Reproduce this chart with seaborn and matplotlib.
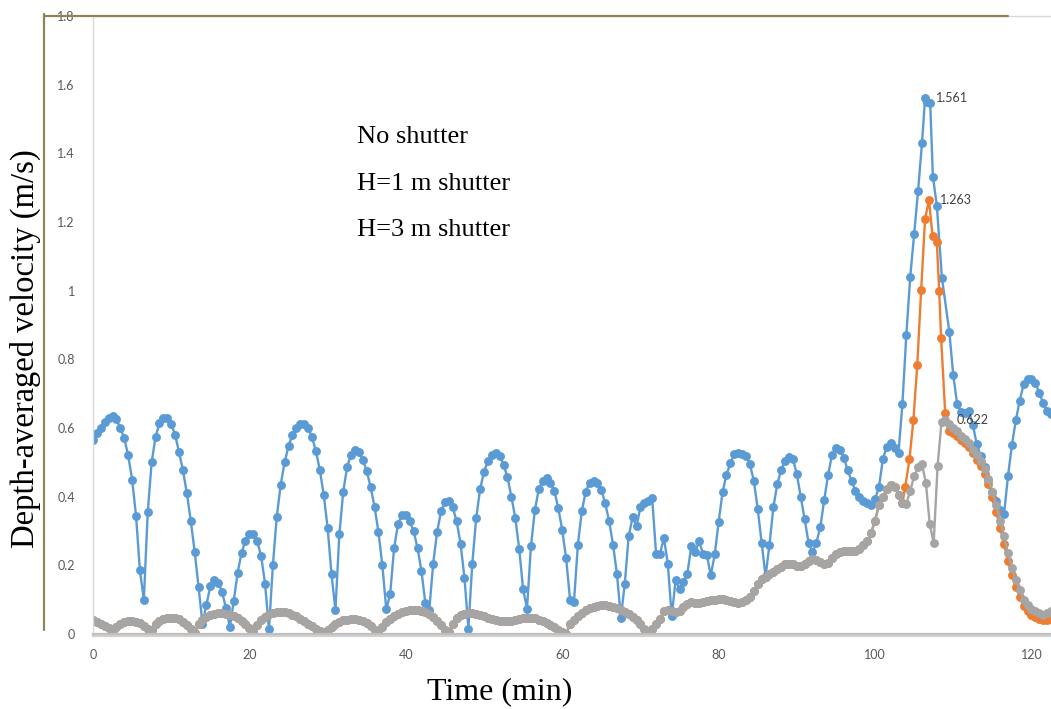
import numpy as np
import pandas as pd
import matplotlib
matplotlib.use("Agg")
import matplotlib.pyplot as plt
import matplotlib.patheffects as pe
from matplotlib.lines import Line2D
from matplotlib.ticker import FuncFormatter
import seaborn as sns

# ---------------- data ----------------
series_names = ["No shutter", "H=1 m shutter", "H=3 m shutter"]
series_colors = ["#5B9BD5", "#ED7D31", "#A5A5A5"]

# No shutter: t = 0 ... 106.0 every 0.5 min
blue_main = [
    0.565, 0.585, 0.600, 0.618, 0.630, 0.635, 0.625, 0.600, 0.570, 0.520,
    0.450, 0.345, 0.185, 0.100, 0.355, 0.500, 0.575, 0.614, 0.630, 0.630,
    0.612, 0.580, 0.530, 0.477, 0.410, 0.330, 0.240, 0.137, 0.030, 0.084,
    0.139, 0.157, 0.150, 0.123, 0.076, 0.020, 0.097, 0.179, 0.237, 0.272,
    0.290, 0.290, 0.270, 0.227, 0.147, 0.014, 0.200, 0.342, 0.435, 0.500,
    0.547, 0.580, 0.600, 0.612, 0.612, 0.600, 0.574, 0.533, 0.478, 0.406,
    0.310, 0.174, 0.070, 0.290, 0.415, 0.487, 0.522, 0.535, 0.530, 0.508,
    0.475, 0.428, 0.371, 0.297, 0.200, 0.072, 0.116, 0.250, 0.320, 0.347,
    0.347, 0.328, 0.300, 0.250, 0.183, 0.090, 0.070, 0.205, 0.297, 0.357,
    0.384, 0.388, 0.369, 0.328, 0.263, 0.164, 0.016, 0.205, 0.338, 0.422,
    0.473, 0.504, 0.522, 0.528, 0.519, 0.493, 0.456, 0.400, 0.338, 0.248,
    0.130, 0.074, 0.256, 0.360, 0.422, 0.446, 0.454, 0.441, 0.417, 0.366,
    0.303, 0.220, 0.100, 0.092, 0.260, 0.357, 0.415, 0.441, 0.446, 0.441,
    0.420, 0.381, 0.328, 0.260, 0.174, 0.048, 0.147, 0.285, 0.340, 0.314,
    0.369, 0.381, 0.388, 0.396, 0.234, 0.234, 0.280, 0.205, 0.052, 0.157,
    0.130, 0.152, 0.176, 0.255, 0.239, 0.270, 0.234, 0.229, 0.171, 0.232,
    0.326, 0.413, 0.464, 0.497, 0.525, 0.528, 0.524, 0.519, 0.495, 0.446,
    0.364, 0.265, 0.168, 0.260, 0.369, 0.437, 0.478, 0.504, 0.515, 0.510,
    0.465, 0.400, 0.334, 0.266, 0.239, 0.266, 0.311, 0.390, 0.464, 0.522,
    0.543, 0.537, 0.514, 0.477, 0.446, 0.417, 0.400, 0.388, 0.381, 0.377,
    0.393, 0.427, 0.510, 0.545, 0.557, 0.543, 0.528, 0.670, 0.871, 1.040,
    1.165, 1.290, 1.429,
]
blue_peak_t = [106.4, 106.7, 107.05, 107.4, 107.9, 108.55]
blue_peak_v = [1.561, 1.550, 1.548, 1.332, 1.248, 1.038]
blue_tail_start = 109.5
blue_tail = [
    0.880, 0.754, 0.670, 0.647, 0.644, 0.649, 0.610, 0.553, 0.519, 0.487,
    0.448, 0.415, 0.388, 0.360, 0.350, 0.460, 0.550, 0.622, 0.680, 0.727,
    0.743, 0.743, 0.731, 0.702, 0.673, 0.649, 0.640,
]

# H=3 m shutter: t = 0 ... 122.5 every 0.5 min
grey_vals = [
    0.040, 0.036, 0.030, 0.024, 0.017, 0.012, 0.020, 0.028, 0.034, 0.037,
    0.038, 0.036, 0.031, 0.024, 0.015, 0.012, 0.028, 0.038, 0.044, 0.047,
    0.048, 0.047, 0.043, 0.036, 0.027, 0.015, 0.003, 0.030, 0.042, 0.050,
    0.055, 0.058, 0.060, 0.060, 0.059, 0.056, 0.052, 0.046, 0.038, 0.029,
    0.018, 0.008, 0.025, 0.040, 0.050, 0.057, 0.061, 0.063, 0.064, 0.063,
    0.060, 0.056, 0.051, 0.045, 0.038, 0.030, 0.022, 0.014, 0.008, 0.006,
    0.012, 0.020, 0.028, 0.035, 0.040, 0.042, 0.043, 0.043, 0.041, 0.037,
    0.031, 0.022, 0.012, 0.002, 0.020, 0.034, 0.045, 0.053, 0.059, 0.064,
    0.067, 0.069, 0.070, 0.070, 0.068, 0.064, 0.058, 0.049, 0.038, 0.025,
    0.012, 0.005, 0.030, 0.046, 0.055, 0.059, 0.060, 0.060, 0.058, 0.055,
    0.051, 0.047, 0.043, 0.040, 0.038, 0.037, 0.037, 0.039, 0.041, 0.044,
    0.046, 0.048, 0.048, 0.046, 0.041, 0.037, 0.033, 0.026, 0.019, 0.012,
    0.006, 0.001, 0.030, 0.042, 0.052, 0.062, 0.070, 0.075, 0.079, 0.082,
    0.084, 0.084, 0.083, 0.080, 0.075, 0.069, 0.063, 0.058, 0.050, 0.040,
    0.030, 0.015, 0.002, 0.015, 0.030, 0.045, 0.068, 0.070, 0.067, 0.064,
    0.068, 0.078, 0.088, 0.093, 0.090, 0.089, 0.092, 0.096, 0.098, 0.099,
    0.101, 0.103, 0.100, 0.097, 0.093, 0.090, 0.093, 0.100, 0.108, 0.125,
    0.145, 0.160, 0.166, 0.175, 0.180, 0.188, 0.196, 0.203, 0.205, 0.203,
    0.199, 0.197, 0.204, 0.212, 0.217, 0.215, 0.210, 0.205, 0.208, 0.220,
    0.232, 0.239, 0.242, 0.242, 0.242, 0.243, 0.248, 0.258, 0.270, 0.295,
    0.330, 0.375, 0.400, 0.422, 0.435, 0.428, 0.405, 0.381, 0.378, 0.417,
    0.460, 0.485, 0.495, 0.440, 0.320, 0.266, 0.490, 0.618, 0.622, 0.612,
    0.600, 0.590, 0.578, 0.568, 0.556, 0.537, 0.520, 0.504, 0.480, 0.452,
    0.415, 0.375, 0.330, 0.285, 0.235, 0.192, 0.158, 0.128, 0.100, 0.085,
    0.074, 0.066, 0.060, 0.056, 0.060, 0.068,
]

# H=1 m shutter: coincides with H=3 m up to 103.5 min, then separates
orange_shared_until = 103.5
orange_peak_t = [103.85, 104.4, 104.9, 105.4, 105.9, 106.4, 106.9, 107.35,
                 107.9, 108.2, 108.45, 108.97, 109.4]
orange_peak_v = [0.427, 0.509, 0.622, 0.784, 1.003, 1.210, 1.263, 1.160,
                 1.142, 1.000, 0.862, 0.644, 0.591]
orange_tail_start = 110.0
orange_tail = [
    0.586, 0.578, 0.566, 0.556, 0.545, 0.527, 0.508, 0.490, 0.465, 0.436,
    0.398, 0.356, 0.310, 0.262, 0.213, 0.172, 0.138, 0.108, 0.082, 0.066,
    0.056, 0.049, 0.044, 0.040, 0.040, 0.045,
]

x_ticks = [0, 20, 40, 60, 80, 100, 120]
y_ticks = [0, 0.2, 0.4, 0.6, 0.8, 1.0, 1.2, 1.4, 1.6, 1.8]

# ---------------- assemble ----------------
step = 0.5
blue_t = np.concatenate([step * np.arange(len(blue_main)), blue_peak_t,
                         blue_tail_start + step * np.arange(len(blue_tail))])
blue_v = np.concatenate([blue_main, blue_peak_v, blue_tail])

grey_t = step * np.arange(len(grey_vals))
grey_v = np.array(grey_vals)

n_shared = int(round(orange_shared_until / step)) + 1
orange_t = np.concatenate([grey_t[:n_shared], orange_peak_t,
                           orange_tail_start + step * np.arange(len(orange_tail))])
orange_v = np.concatenate([grey_v[:n_shared], orange_peak_v, orange_tail])

df = pd.concat([
    pd.DataFrame({"t": blue_t, "v": blue_v, "series": series_names[0]}),
    pd.DataFrame({"t": orange_t, "v": orange_v, "series": series_names[1]}),
    pd.DataFrame({"t": grey_t, "v": grey_v, "series": series_names[2]}),
], ignore_index=True)

# ---------------- plot ----------------
sns.set_theme(style="white")
plt.rcParams["font.family"] = ["Lato", "DejaVu Sans"]

fig = plt.figure(figsize=(10.51, 7.09), dpi=100)
ax = fig.add_axes([93 / 1051, 75 / 709, 958 / 1051, 618 / 709])

sns.lineplot(data=df, x="t", y="v", hue="series", hue_order=series_names,
             palette=series_colors, sort=False, estimator=None,
             marker="o", markersize=6.4, markeredgewidth=0,
             linewidth=1.7, ax=ax)

ax.set_xlim(0, 122.5)
ax.set_ylim(0, 1.8)
ax.set_xticks(x_ticks)
ax.set_yticks(y_ticks)
fmt = FuncFormatter(lambda v, p: f"{v:g}")
ax.yaxis.set_major_formatter(fmt)
ax.xaxis.set_major_formatter(fmt)
ax.tick_params(axis="both", length=0, labelsize=9, labelcolor="#595959")
ax.tick_params(axis="y", pad=13)
ax.tick_params(axis="x", pad=11)
ax.grid(False)

for side in ["top", "left"]:
    ax.spines[side].set_color("#d9d9d9")
    ax.spines[side].set_linewidth(1.0)
ax.spines["right"].set_visible(False)
ax.spines["bottom"].set_color("#bfbfbf")
ax.spines["bottom"].set_linewidth(1.6)
ax.spines["bottom"].set_path_effects([
    pe.SimpleLineShadow(offset=(0, -1.5), shadow_color="#000000", alpha=0.18),
    pe.Normal()])

serif = "Liberation Serif"
ax.set_xlabel("Time (min)", family=serif, fontsize=23, color="black", va="center")
ax.xaxis.set_label_coords(0.425, -0.094)
ax.set_ylabel("Depth-averaged velocity (m/s)", family=serif, fontsize=23.5,
              color="black", va="center")
ax.yaxis.set_label_coords(-0.071, 0.461)

# legend (text only, as in the reference)
handles, labels = ax.get_legend_handles_labels()
leg = ax.legend(handles, labels, loc="upper left", bbox_to_anchor=(0.2756, 0.824),
                frameon=False, handlelength=0, handletextpad=0, borderpad=0,
                borderaxespad=0, labelspacing=0.87,
                prop={"family": serif, "size": 19})
for h in leg.legend_handles:
    h.set_visible(False)
for txt in leg.get_texts():
    txt.set_color("black")

# data labels at each series maximum
for t_arr, v_arr in [(blue_t, blue_v), (orange_t, orange_v), (grey_t, grey_v)]:
    i = int(np.argmax(v_arr))
    ax.annotate(f"{v_arr[i]:.3f}", xy=(t_arr[i], v_arr[i]), xytext=(8, 0),
                textcoords="offset points", va="center", ha="left",
                fontsize=9, color="#404040")

# olive frame lines of the original figure
olive = "#8f8455"
fig.add_artist(Line2D([44 / 1051, 1008 / 1051], [1 - 16 / 709, 1 - 16 / 709],
                      transform=fig.transFigure, color=olive, lw=1.6))
fig.add_artist(Line2D([44 / 1051, 44 / 1051], [1 - 14 / 709, 1 - 630 / 709],
                      transform=fig.transFigure, color=olive, lw=1.6))

fig.savefig("out.png", dpi=100)
